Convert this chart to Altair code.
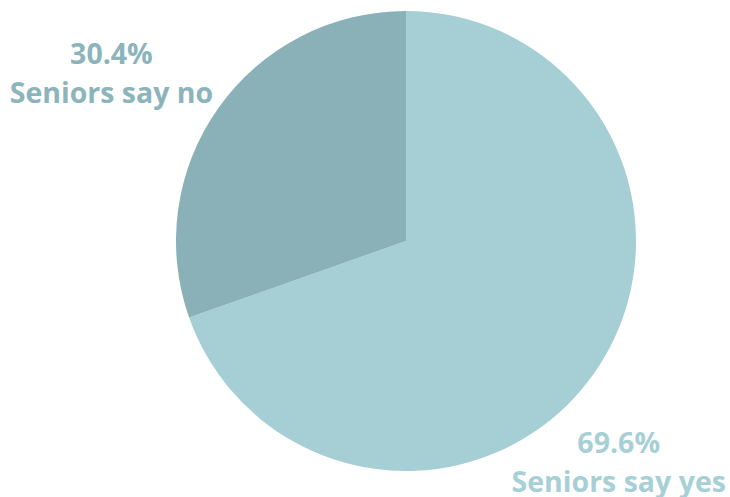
import math
import altair as alt
import pandas as pd

categories = ["Seniors say yes", "Seniors say no"]
values = [69.6, 30.4]
pct_labels = ["69.6%", "30.4%"]
slice_order = [0, 1]
slice_colors = ["#a5ced5", "#8ab1b8"]

df = pd.DataFrame({
    "category": categories,
    "value": values,
    "pct": pct_labels,
    "order": slice_order,
})

base = alt.Chart(df)

pie = base.mark_arc(outerRadius=230, strokeWidth=0).encode(
    theta=alt.Theta("value:Q", stack=True),
    color=alt.Color("category:N",
                    scale=alt.Scale(domain=categories, range=slice_colors),
                    legend=None),
    order=alt.Order("order:Q"),
)


def label(cat, color, radius, dx, dy):
    return (
        base.transform_window(cum="sum(value)", sort=[alt.SortField("order")])
        .transform_calculate(mid="datum.cum - datum.value / 2",
                             txt="datum.pct + '\\n' + datum.category")
        .transform_filter(alt.datum.category == cat)
        .mark_text(radius=radius, dx=dx, dy=dy, font="Open Sans", fontWeight="bold",
                   fontSize=28.5, color=color, align="center",
                   baseline="alphabetic", lineBreak="\n", lineHeight=39)
        .encode(
            theta=alt.Theta("mid:Q", stack=None,
                            scale=alt.Scale(domain=[0, 100], range=[0, 2 * math.pi])),
            text="txt:N",
        )
    )


lab_no = label("Seniors say no", "#8cb4bb", 340, -17, 19)
lab_yes = label("Seniors say yes", "#a7cfd6", 301, -33, 38)

chart = (
    alt.layer(pie, lab_no, lab_yes)
    .resolve_scale(theta="independent")
    .properties(width=648, height=482,
                padding={"left": 82, "top": 0, "right": 0, "bottom": 15},
                autosize=alt.AutoSizeParams(type="none"),
                background="white")
    .configure_view(stroke=None)
)

chart.save("out.html", embed_options={"renderer": "svg", "actions": False})
